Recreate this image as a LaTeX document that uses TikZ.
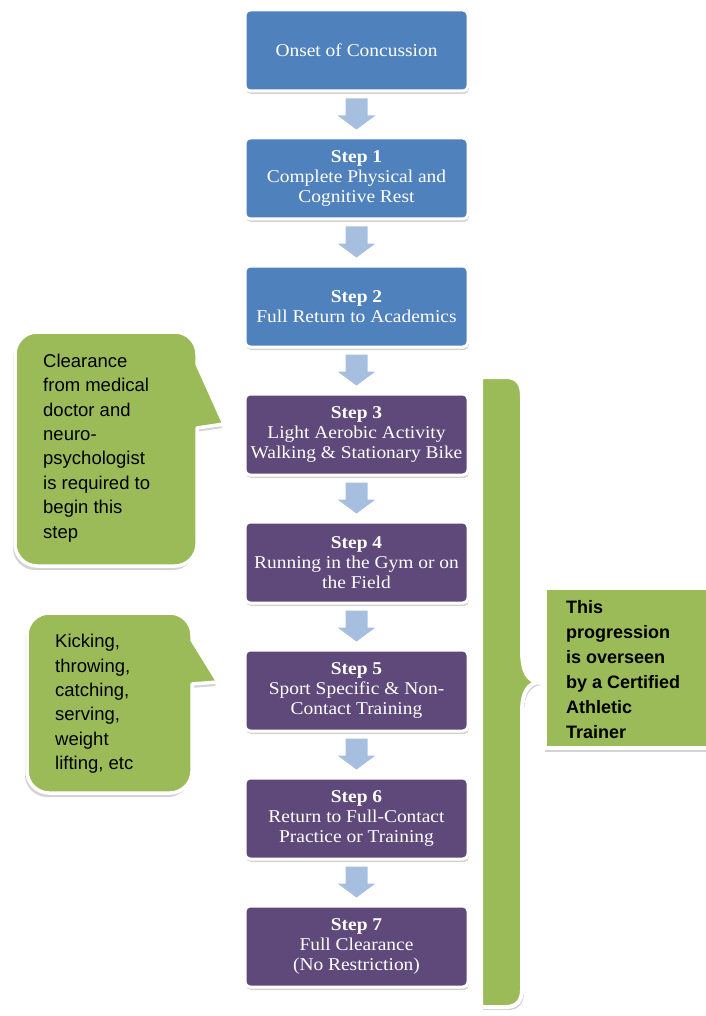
\documentclass[tikz,border=0pt]{standalone}
\usepackage{fontspec}
\setmainfont{Liberation Serif}[FakeStretch=1.08]
\newfontfamily\sansf{Liberation Sans}
\usetikzlibrary{shadows,calc}
\definecolor{boxblue}{HTML}{4F81BD}
\definecolor{boxpurple}{HTML}{5F497A}
\definecolor{grn}{HTML}{9BBB59}
\definecolor{arr}{HTML}{A7BFDE}
\tikzset{
  stepbox/.style={rectangle, rounded corners=5pt, draw=white, line width=3pt,
    minimum width=223pt, minimum height=81pt, text=white, align=center,
    font=\fontsize{18}{20}\selectfont,
    drop shadow={opacity=0.35, shadow xshift=1pt, shadow yshift=-3pt}},
  bluebox/.style={stepbox, fill=boxblue},
  purplebox/.style={stepbox, fill=boxpurple},
  greenshape/.style={fill=grn, draw=white, line width=3.5pt, line join=round,
    drop shadow={opacity=0.35, shadow xshift=-2pt, shadow yshift=-4pt}},
  bracestyle/.style={fill=grn, draw=white, line width=4pt,
    drop shadow={opacity=0.35, shadow xshift=2pt, shadow yshift=-3pt}},
  sidetext/.style={anchor=west, align=left, inner sep=0pt,
    font=\sansf\fontsize{18.5}{24.4}\selectfont, text=black},
  arrowfill/.style={fill=arr}
}
\newcommand\blockarr[2]{%
  \fill[arrowfill] ($(#1.south)+(-11,6)$) -- ($(#1.south)+(11,6)$) -- ($(#1.south)+(11,23)$)
   -- ($(#1.south)+(19,23)$) -- ($(#2.north)+(0,-7)$) -- ($(#1.south)+(-19,23)$)
   -- ($(#1.south)+(-11,23)$) -- cycle;}
\begin{document}
\begin{tikzpicture}[x=1pt,y=-1pt]
\useasboundingbox (0,0) rectangle (705,1016);
% brace
\draw[bracestyle] (481,377) -- (506,377) .. controls (518,377) and (522,385) .. (522,396)
  -- (522,650) .. controls (522,672) and (528,682) .. (540,682)
  .. controls (528,683) and (522,692) .. (522,712)
  -- (522,990) .. controls (522,1001) and (516,1007) .. (506,1007) -- (481,1007) -- cycle;
% steps
\node[bluebox] (s0) at (356.5,50.5) {Onset of Concussion};
\node[bluebox] (s1) at (356.5,178.5) {\textbf{Step 1}\\Complete Physical and\\Cognitive Rest};
\node[bluebox] (s2) at (356.5,306.5) {\textbf{Step 2}\\Full Return to Academics};
\node[purplebox] (s3) at (356.5,434.5) {\textbf{Step 3}\\Light Aerobic Activity\\Walking \& Stationary Bike};
\node[purplebox] (s4) at (356.5,562.5) {\textbf{Step 4}\\Running in the Gym or on\\the Field};
\node[purplebox] (s5) at (356.5,690.5) {\textbf{Step 5}\\Sport Specific \& Non-\\Contact Training};
\node[purplebox] (s6) at (356.5,818.5) {\textbf{Step 6}\\Return to Full-Contact\\Practice or Training};
\node[purplebox] (s7) at (356.5,946.5) {\textbf{Step 7}\\Full Clearance\\(No Restriction)};
\blockarr{s0}{s1}
\blockarr{s1}{s2}
\blockarr{s2}{s3}
\blockarr{s3}{s4}
\blockarr{s4}{s5}
\blockarr{s5}{s6}
\blockarr{s6}{s7}
% overseen box
\node[rectangle, fill=grn, draw=white, line width=3.5pt, minimum width=172pt, minimum height=160pt,
  drop shadow={opacity=0.35, shadow xshift=0pt, shadow yshift=-4pt}] (ovbox) at (631,668) {};
\node[sidetext, font=\sansf\bfseries\fontsize{18}{25}\selectfont] (ovtext) at (566,670)
  {This\\progression\\is overseen\\by a Certified\\Athletic\\Trainer};
% callout 1
\draw[greenshape] (15,450) -- (15,354) .. controls (15,342) and (25,332) .. (37,332)
  -- (175,332) .. controls (187,332) and (197,342) .. (197,354) -- (197,364)
  -- (224,424) -- (197,428) -- (197,544) .. controls (197,556) and (187,566) .. (175,566)
  -- (37,566) .. controls (25,566) and (15,556) .. (15,544) -- cycle;
\node[sidetext] (c1text) at (43,448)
  {Clearance\\from medical\\doctor and\\neuro-\\psychologist\\is required to\\begin this\\step};
% callout 2
\draw[greenshape] (27,700) -- (27,635) .. controls (27,623) and (37,613) .. (49,613)
  -- (170,613) .. controls (182,613) and (192,623) .. (192,635) -- (192,640)
  -- (218,682) -- (192,684) -- (192,771) .. controls (192,783) and (182,793) .. (170,793)
  -- (49,793) .. controls (37,793) and (27,783) .. (27,771) -- cycle;
\node[sidetext] (c2text) at (55,704)
  {Kicking,\\throwing,\\catching,\\serving,\\weight\\lifting, etc};
\end{tikzpicture}
\end{document}
